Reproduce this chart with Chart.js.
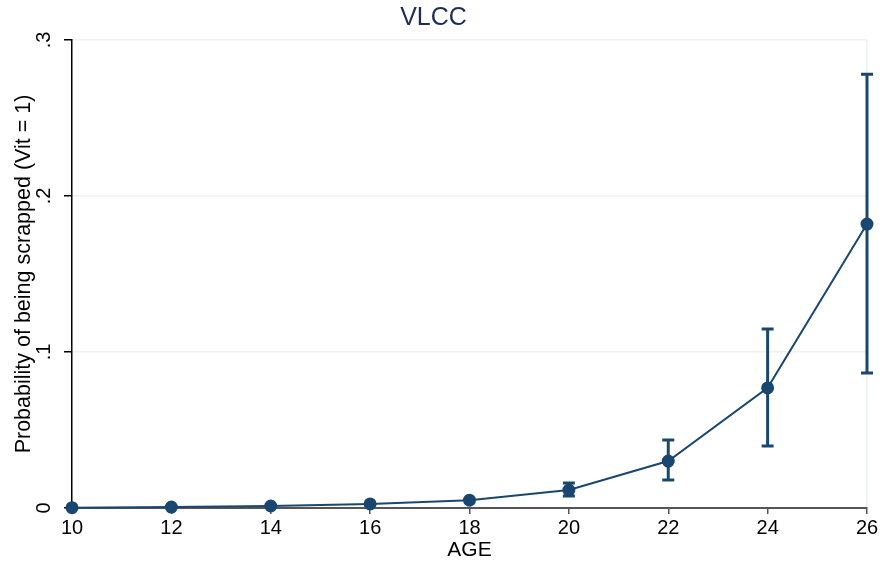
<!DOCTYPE html>
<html>
<head>
<meta charset="utf-8">
<script src="https://cdn.jsdelivr.net/npm/chart.js@4.4.0/dist/chart.umd.min.js"></script>
<style>
  html, body { margin: 0; padding: 0; background: #fff; }
  #wrap { width: 883px; height: 568px; }
</style>
</head>
<body>
<div id="wrap"><canvas id="vlccChart"></canvas></div>
<script>
var ages = [10, 12, 14, 16, 18, 20, 22, 24, 26];
var probScrapped = [0.0002, 0.0006, 0.0013, 0.0026, 0.005, 0.0115, 0.0301, 0.077, 0.182];
var ciLower = [0.0001, 0.0004, 0.001, 0.0021, 0.0041, 0.0077, 0.018, 0.0397, 0.0865];
var ciUpper = [0.0003, 0.0008, 0.0016, 0.0031, 0.0059, 0.016, 0.0436, 0.1147, 0.278];
var yTicks = [0, 0.1, 0.2, 0.3];

var navy = "#1a476f";
var fontFam = "'Liberation Sans', Arial, sans-serif";

var points = [];
for (let i = 0; i < ages.length; i++) {
  points.push({ x: ages[i], y: probScrapped[i] });
}

var errorBars = {
  id: "errorBars",
  beforeDatasetsDraw: function(chart) {
    var ctx = chart.ctx;
    var xs = chart.scales.x;
    var ys = chart.scales.y;
    ctx.save();
    ctx.strokeStyle = navy;
    ctx.lineWidth = 3;
    for (let i = 0; i < ages.length; i++) {
      var px = xs.getPixelForValue(ages[i]);
      var lo = ys.getPixelForValue(ciLower[i]);
      var hi = ys.getPixelForValue(ciUpper[i]);
      if (lo - hi < 3) continue;
      ctx.beginPath();
      ctx.moveTo(px, lo);
      ctx.lineTo(px, hi);
      ctx.moveTo(px - 6, lo);
      ctx.lineTo(px + 6, lo);
      ctx.moveTo(px - 6, hi);
      ctx.lineTo(px + 6, hi);
      ctx.stroke();
    }
    ctx.restore();
  }
};

// y tick labels are turned on their side, as in the original
var rotatedYLabels = {
  id: "rotatedYLabels",
  afterDraw: function(chart) {
    var ctx = chart.ctx;
    var ys = chart.scales.y;
    ctx.save();
    ctx.fillStyle = "#000";
    ctx.font = "20px " + fontFam;
    ctx.textAlign = "center";
    ctx.textBaseline = "middle";
    yTicks.forEach(function(v) {
      var py = ys.getPixelForValue(v);
      var label = v === 0 ? "0" : String(v).replace(/^0/, "");
      ctx.save();
      ctx.translate(44, py);
      ctx.rotate(-Math.PI / 2);
      ctx.fillText(label, 0, 0);
      ctx.restore();
    });
    ctx.restore();
  }
};

const dataVlcc = {
  datasets: [
    {
      label: "VLCC",
      data: points,
      borderColor: navy,
      backgroundColor: navy,
      borderWidth: 2,
      pointRadius: 5.5,
      pointHoverRadius: 5.5,
      tension: 0,
      clip: false,
    },
  ],
};

const configVlcc = {
  type: "line",
  data: dataVlcc,
  options: {
    responsive: true,
    maintainAspectRatio: false,
    animation: false,
    layout: { padding: { right: 16, left: 0, top: 0, bottom: 0 } },
    plugins: {
      title: {
        display: true,
        text: "VLCC",
        color: "#1f2d55",
        font: { family: fontFam, size: 25, weight: "normal" },
        padding: { top: 3, bottom: 7 },
      },
      legend: { display: false },
      tooltip: { enabled: false },
    },
    scales: {
      x: {
        type: "linear",
        min: 10,
        max: 26,
        afterFit: function(s) { s.height = 60; },
        ticks: {
          stepSize: 2,
          color: "#000",
          padding: 2,
          font: { family: fontFam, size: 20 },
          maxRotation: 0,
        },
        grid: {
          color: function(c) { return c.tick && c.tick.value === 26 ? "#eaf2f3" : "rgba(0,0,0,0)"; },
          tickColor: "#555",
          tickLength: 6,
          lineWidth: 1.5,
        },
        border: { color: "#555", width: 2 },
        title: {
          display: true,
          text: "AGE",
          color: "#000",
          font: { family: fontFam, size: 21 },
          padding: { top: 0, bottom: 5 },
        },
      },
      y: {
        min: 0,
        max: 0.3,
        afterFit: function(s) { s.width = 72; },
        ticks: {
          stepSize: 0.1,
          display: false,
        },
        grid: {
          color: "#eaf2f3",
          lineWidth: 1.5,
          tickColor: "#000",
          tickLength: 8,
        },
        border: { color: "#000", width: 1.5 },
        title: {
          display: true,
          text: "Probability of being scrapped (Vit = 1)",
          color: "#000",
          font: { family: fontFam, size: 21.5 },
          padding: { top: 11, bottom: 0 },
        },
      },
    },
  },
  plugins: [errorBars, rotatedYLabels],
};

var vlccChart = new Chart(document.getElementById("vlccChart"), configVlcc);
</script>
</body>
</html>
